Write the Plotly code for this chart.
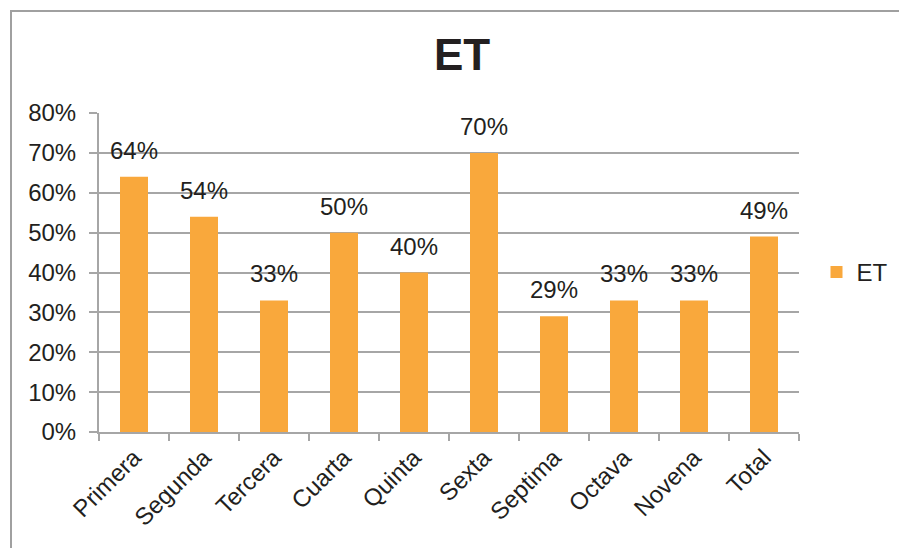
import plotly.graph_objects as go

categories = ["Primera", "Segunda", "Tercera", "Cuarta", "Quinta",
              "Sexta", "Septima", "Octava", "Novena", "Total"]
et_values = [0.64, 0.54, 0.33, 0.50, 0.40, 0.70, 0.29, 0.33, 0.33, 0.49]
y_ticks = [0, 0.1, 0.2, 0.3, 0.4, 0.5, 0.6, 0.7, 0.8]
y_tick_labels = ["0%", "10%", "20%", "30%", "40%", "50%", "60%", "70%", "80%"]

BAR_COLOR = "#F9A83C"
GRID_COLOR = "#A6A6A6"
TEXT_COLOR = "#231F20"
FONT = "Liberation Sans, Arial, sans-serif"

fig = go.Figure()
fig.add_trace(go.Bar(
    x=categories,
    y=et_values,
    name="ET",
    marker=dict(color=BAR_COLOR, line=dict(width=0)),
))

# value labels above each bar
for cat, val in zip(categories, et_values):
    fig.add_annotation(
        x=cat, y=val, text=f"{round(val * 100)}%",
        showarrow=False, yanchor="bottom", yshift=11,
        font=dict(size=24, color=TEXT_COLOR, family=FONT),
    )

fig.update_layout(
    width=899, height=548,
    margin=dict(l=99, r=100, t=113, b=116, autoexpand=False),
    paper_bgcolor="white", plot_bgcolor="white",
    bargap=0.6,
    font=dict(family=FONT, size=24, color=TEXT_COLOR),
    title=dict(text="<b>ET</b>", x=0.514, xanchor="center",
               y=0.9, yanchor="middle",
               font=dict(size=44, color=TEXT_COLOR, family=FONT)),
    showlegend=True,
    legend=dict(x=1.025, y=0.5, xanchor="left", yanchor="middle",
                font=dict(size=24, color=TEXT_COLOR, family=FONT),
                itemwidth=30, bgcolor="rgba(0,0,0,0)"),
    xaxis=dict(
        type="category", tickangle=-45, showgrid=False,
        showline=True, linecolor=GRID_COLOR, linewidth=2,
        ticks="outside", tickson="boundaries", ticklen=7,
        tickcolor=GRID_COLOR, tickwidth=2,
        tickfont=dict(size=24, color=TEXT_COLOR, family=FONT),
    ),
    yaxis=dict(
        range=[0, 0.8], tickvals=y_ticks, ticktext=y_tick_labels,
        showgrid=True, gridcolor=GRID_COLOR, gridwidth=2,
        showline=True, linecolor=GRID_COLOR, linewidth=2,
        ticks="outside", ticklen=8, tickcolor=GRID_COLOR, tickwidth=2,
        ticklabelstandoff=8,
        zeroline=False,
        tickfont=dict(size=24, color=TEXT_COLOR, family=FONT),
    ),
    shapes=[dict(type="rect", xref="paper", yref="paper",
                 x0=-88 / 700, x1=1.2, y0=-0.5, y1=1 + 102 / 319,
                 line=dict(color="#A0A0A0", width=2), layer="below")],
)

fig.write_html("out.html")
